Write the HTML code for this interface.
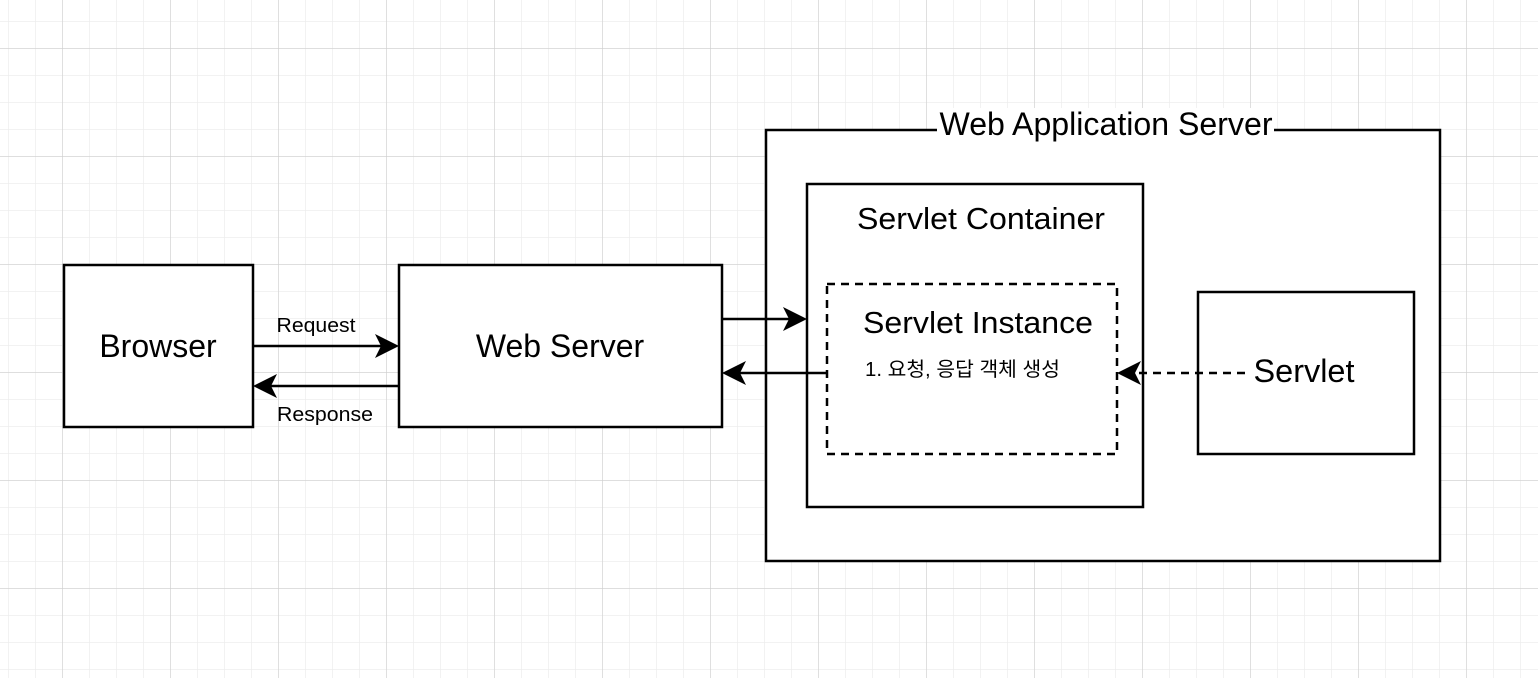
<!DOCTYPE html>
<html><head><meta charset="utf-8"><style>
html,body{margin:0;padding:0;background:#fff;}
svg{display:block;}
text{font-family:"Liberation Sans","Noto Sans CJK KR",sans-serif;fill:#000;}
</style></head><body>
<svg width="1538" height="678" viewBox="0 0 1538 678" xmlns="http://www.w3.org/2000/svg">
<defs>
<pattern id="minor" x="8" y="21" width="27" height="27" patternUnits="userSpaceOnUse">
<path d="M0 0H27M0 0V27" stroke="#ededed" stroke-width="1.5" fill="none"/>
</pattern>
<pattern id="major" x="62" y="48" width="108" height="108" patternUnits="userSpaceOnUse">
<path d="M0 0H108M0 0V108" stroke="#cfcfcf" stroke-width="1.2" fill="none"/>
</pattern>
</defs>
<rect width="1538" height="678" fill="#fff"/>
<rect width="1538" height="678" fill="url(#minor)"/>
<rect width="1538" height="678" fill="url(#major)"/>

<g stroke="#000" stroke-width="2.5" fill="#fff">
<rect x="64" y="265" width="189" height="162"/>
<rect x="399" y="265" width="323" height="162"/>
<rect x="766" y="130" width="674" height="431"/>
<rect x="807" y="184" width="336" height="323"/>
<rect x="1198" y="292" width="216" height="162"/>
</g>
<rect x="827" y="284" width="290" height="170" fill="none" stroke="#000" stroke-width="2.5" stroke-dasharray="8,6"/>

<rect x="937" y="108" width="337" height="34" fill="#fff"/>
<text x="1106" y="135" font-size="32" text-anchor="middle" textLength="333" lengthAdjust="spacingAndGlyphs">Web Application Server</text>
<text x="158" y="357" font-size="32" text-anchor="middle">Browser</text>
<text x="560" y="357" font-size="32" text-anchor="middle">Web Server</text>
<text x="981" y="229" font-size="31" text-anchor="middle" textLength="248" lengthAdjust="spacingAndGlyphs">Servlet Container</text>
<text x="978" y="333" font-size="31" text-anchor="middle" textLength="230" lengthAdjust="spacingAndGlyphs">Servlet Instance</text>
<text x="865" y="376" font-size="20" textLength="195" lengthAdjust="spacingAndGlyphs">1. 요청, 응답 객체 생성</text>
<text x="316" y="332" font-size="20" text-anchor="middle" textLength="79" lengthAdjust="spacingAndGlyphs">Request</text>
<text x="325" y="421" font-size="20" text-anchor="middle" textLength="96" lengthAdjust="spacingAndGlyphs">Response</text>

<g stroke="#000" stroke-width="2.5" fill="none">
<line x1="253" y1="346" x2="390" y2="346"/>
<line x1="399" y1="386" x2="262" y2="386"/>
<line x1="722" y1="319" x2="798" y2="319"/>
<line x1="827" y1="373" x2="731" y2="373"/>
<line x1="1245" y1="373" x2="1126" y2="373" stroke-dasharray="8,6"/>
</g>
<g fill="#000">
<path d="M399 346 L375 334 L381 346 L375 358 Z"/>
<path d="M253 386 L277 374 L271 386 L277 398 Z"/>
<path d="M807 319 L783 307 L789 319 L783 331 Z"/>
<path d="M722 373 L746 361 L740 373 L746 385 Z"/>
<path d="M1117 373 L1141 361 L1135 373 L1141 385 Z"/>
</g>
<rect x="1250" y="350" width="108" height="40" fill="#fff"/>
<text x="1304" y="382" font-size="32" text-anchor="middle" textLength="101" lengthAdjust="spacingAndGlyphs">Servlet</text>
</svg>
</body></html>
